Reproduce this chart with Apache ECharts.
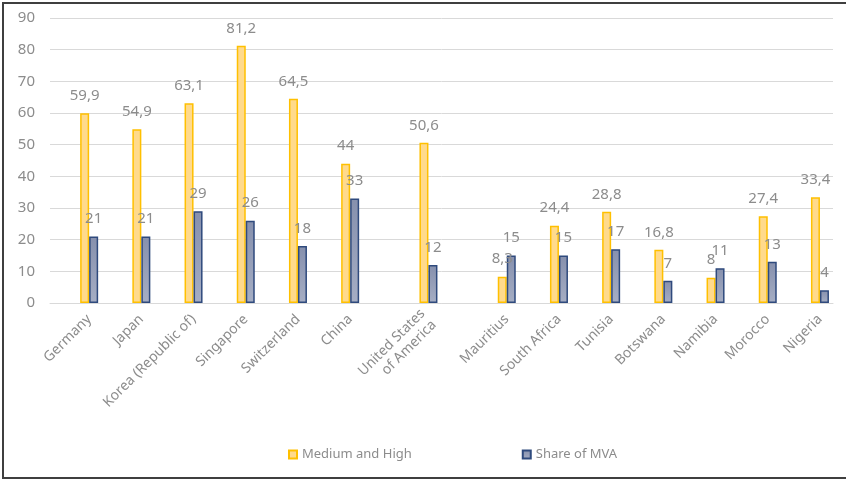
<!DOCTYPE html>
<html>
<head>
<meta charset="utf-8">
<script src="https://cdn.jsdelivr.net/npm/echarts@6/dist/echarts.min.js"></script>
<style>
  html, body { margin: 0; padding: 0; width: 846px; height: 479px; overflow: hidden; background: #fff; }
  #chart { position: absolute; left: 0; top: 0; width: 846px; height: 479px; }
  #frame {
    position: absolute; left: 2px; top: 2px; width: 842px; height: 473px;
    border-left: 2px solid #3f3f3f; border-top: 2px solid #3f3f3f; border-bottom: 2px solid #3f3f3f;
    box-sizing: content-box; pointer-events: none;
  }
</style>
</head>
<body>
<div id="chart"></div>
<div id="frame"></div>
<script>
// countries in chart order
var countries = ['Germany', 'Japan', 'Korea (Republic of)', 'Singapore', 'Switzerland', 'China',
  'United States\nof America', 'Mauritius', 'South Africa', 'Tunisia', 'Botswana', 'Namibia', 'Morocco', 'Nigeria'];
var mediumHigh = [59.9, 54.9, 63.1, 81.2, 64.5, 44, 50.6, 8.3, 24.4, 28.8, 16.8, 8, 27.4, 33.4];
var shareMva = [21, 21, 29, 26, 18, 33, 12, 15, 15, 17, 7, 11, 13, 4];
var yTicks = { min: 0, max: 90, interval: 10 };

// the original spreads the groups on half steps, with a wider gap round the USA
var wideBefore = ['United States\nof America', 'Mauritius'];
var cats = [], s1 = [], s2 = [];
countries.forEach(function (c, i) {
  var blanks = wideBefore.indexOf(c) >= 0 ? 2 : 1;
  for (var b = 0; b < blanks; b++) { cats.push(''); s1.push(null); s2.push(null); }
  cats.push(c); s1.push(mediumHigh[i]); s2.push(shareMva[i]);
});

var grey = '#8c8c8c';
var font = '"Noto Sans", sans-serif';
function comma(p) { return String(p.value).replace('.', ','); }

var chart = echarts.init(document.getElementById('chart'));
chart.setOption({
  animation: false,
  grid: { left: 50, right: 13, top: 18, bottom: 176 },
  legend: {
    left: 283, top: 443,
    itemWidth: 8, itemHeight: 8, itemGap: 110,
    icon: 'rect',
    textStyle: { color: grey, fontSize: 13, fontFamily: font },
    data: ['Medium and High', 'Share of MVA']
  },
  xAxis: {
    type: 'category',
    data: cats,
    axisTick: { show: false },
    axisLine: { lineStyle: { color: '#d9d9d9' } },
    axisLabel: { interval: 0, rotate: 45, margin: 14, color: grey, fontSize: 14, fontFamily: font, lineHeight: 16 }
  },
  yAxis: {
    type: 'value',
    min: yTicks.min, max: yTicks.max, interval: yTicks.interval,
    axisLine: { show: false },
    axisTick: { show: false },
    splitLine: { lineStyle: { color: '#d9d9d9' } },
    axisLabel: { margin: 15, color: grey, fontSize: 15, fontFamily: font }
  },
  series: [
    {
      name: 'Medium and High',
      type: 'bar',
      data: s1,
      barWidth: 9,
      barGap: '0%',
      itemStyle: { color: '#ffda8c', borderColor: '#ffc000', borderWidth: 1.5 },
      label: { show: true, position: 'top', distance: 10, color: grey, fontSize: 15, fontFamily: font, formatter: comma }
    },
    {
      name: 'Share of MVA',
      type: 'bar',
      data: s2,
      barWidth: 9,
      itemStyle: {
        color: new echarts.graphic.LinearGradient(0, 0, 0, 1, [
          { offset: 0, color: '#8690ad' },
          { offset: 1, color: '#a6aec4' }
        ]),
        borderColor: '#2f4a7d', borderWidth: 1.5
      },
      label: { show: true, position: 'top', distance: 10, color: grey, fontSize: 15, fontFamily: font, formatter: comma }
    }
  ]
});
</script>
</body>
</html>
